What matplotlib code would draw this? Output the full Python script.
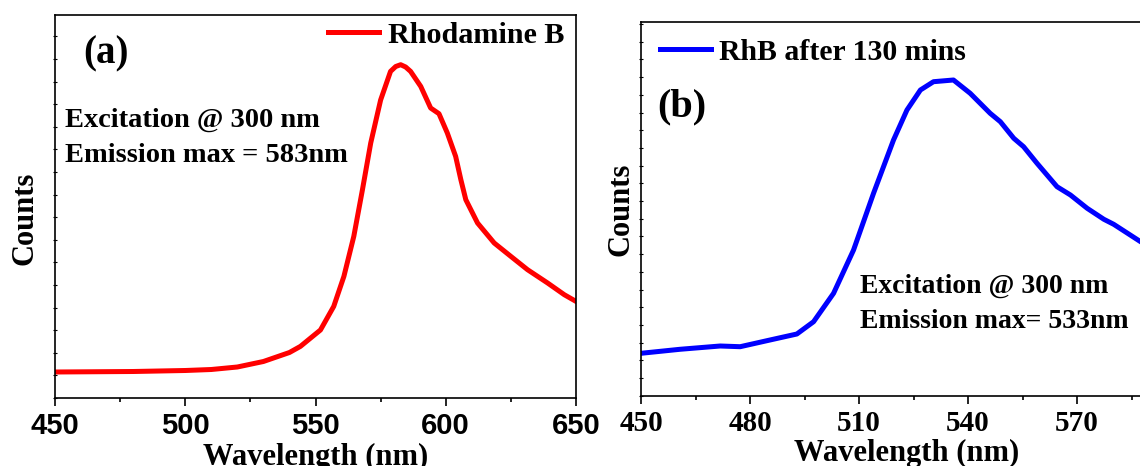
import matplotlib
matplotlib.use("Agg")
from matplotlib import pyplot as plt
from matplotlib.ticker import MultipleLocator

# (a) Rhodamine B emission spectrum (arbitrary counts)
wl_a = [450, 480, 500, 510, 520, 530, 540, 544.2, 551.9, 557.0, 560.9, 564.7, 568.0,
        571.2, 575.0, 578.8, 580.8, 582.7, 584.6, 586.5, 590.4, 594.2, 597.4, 600.6, 603.8,
        605.8, 607.7, 612.2, 618.6, 625.0, 631.4, 639.1, 645.5, 650]
counts_a = [26, 26.5, 27.5, 28.5, 31, 36.5, 45.5, 51.6, 68, 91.6, 121.6, 161.6, 208,
            255, 298, 326.6, 331.5, 333.3, 331, 326.6, 311.6, 290, 284.3, 265, 241.6,
            218.3, 198.3, 175, 155, 141.6, 128.3, 115, 103.3, 96.6]

# (b) RhB after 130 mins
wl_b = [450, 460.7, 471.8, 477.3, 485.5, 492.9, 497.5, 503.0, 508.5, 514.0, 519.5,
        523.2, 526.9, 530.5, 536.0, 540.6, 546.1, 548.9, 552.6, 555.3, 559.0,
        564.5, 568.2, 572.8, 577.4, 580.1, 587.5, 590]
counts_b = [42.4, 46.4, 49.7, 49, 55.7, 61.7, 74, 102.4, 145.7, 202.4, 255.7,
            285.7, 305.7, 314, 315.7, 302.4, 282.4, 274, 257.4, 249, 232.4,
            209, 200.7, 187.4, 176.4, 171.4, 154, 149]

serif = "Liberation Serif"
sans = "Liberation Sans"

W, H = 1140, 466
fig = plt.figure(figsize=(W / 100, H / 100), dpi=100)


def px(x, y):
    # pixel position (from top-left) -> figure fraction
    return x / W, 1 - y / H


def style_axes(ax, tick_font, tick_size, xminor, ystep):
    for s in ax.spines.values():
        s.set_linewidth(1.2)
    ax.xaxis.set_minor_locator(MultipleLocator(xminor))
    ax.tick_params(axis="x", which="major", direction="out", length=6, width=1.2, pad=4,
                   top=False)
    ax.tick_params(axis="x", which="minor", direction="out", length=3, width=1.2, top=False)
    ax.yaxis.set_major_locator(MultipleLocator(ystep))
    ax.tick_params(axis="y", which="major", direction="inout", length=3, width=0.8,
                   labelleft=False)
    for lab in ax.get_xticklabels():
        lab.set_fontfamily(tick_font)
        lab.set_fontweight("bold")
        lab.set_fontsize(tick_size)


bold = dict(family=serif, weight="bold")

# ---- panel (a)
ax1 = fig.add_axes([55 / W, (H - 398) / H, 521 / W, 383 / H])
ax1.plot(wl_a, counts_a, color="#ff0000", lw=3.6, label="Rhodamine B")
ax1.set_xlim(450, 650)
ax1.set_ylim(0, 383)
ax1.set_xticks([450, 500, 550, 600, 650])
style_axes(ax1, sans, 21, 25, 22.6)
ax1.legend(loc="center left", bbox_to_anchor=px(328, 35), bbox_transform=fig.transFigure,
           frameon=False, borderpad=0, borderaxespad=0, handlelength=1.7,
           handletextpad=0.3, prop={"family": serif, "weight": "bold", "size": 21.7})
fig.text(*px(106, 54), "(a)", ha="center", va="center", size=28, **bold)
fig.text(*px(65, 127), "Excitation @ 300 nm", va="baseline", size=20.5, **bold)
fig.text(*px(65, 162), "Emission max = 583nm", va="baseline", size=20.5, **bold)

# ---- panel (b)  (right side of the axes runs past the figure edge)
ax2 = fig.add_axes([641 / W, (H - 395.7) / H, 545 / W, 374 / H])
ax2.plot(wl_b, counts_b, color="#0000ff", lw=3.6, label="RhB after 130 mins")
ax2.set_xlim(450, 600)
ax2.set_ylim(0, 374)
ax2.set_xticks([450, 480, 510, 540, 570])
style_axes(ax2, serif, 21, 15, 17.7)
ax2.legend(loc="center left", bbox_to_anchor=px(660, 52), bbox_transform=fig.transFigure,
           frameon=False, borderpad=0, borderaxespad=0, handlelength=1.7,
           handletextpad=0.3, prop={"family": serif, "weight": "bold", "size": 21.4})
fig.text(*px(682, 107), "(b)", ha="center", va="center", size=29, **bold)
fig.text(*px(860, 293), "Excitation @ 300 nm", va="baseline", size=20, **bold)
fig.text(*px(860, 328), "Emission max= 533nm", va="baseline", size=20, **bold)

# axis labels (bottom of the x labels is cut by the figure edge, as in the source)
fig.text(*px(25, 218), "Counts", rotation=90, ha="center", va="center", size=22, **bold)
fig.text(*px(621, 209), "Counts", rotation=90, ha="center", va="center", size=22, **bold)
fig.text(*px(316, 465), "Wavelength (nm)", ha="center", va="baseline", size=22, **bold)
fig.text(*px(907, 461), "Wavelength (nm)", ha="center", va="baseline", size=22, **bold)

fig.savefig("out.png", dpi=100)
